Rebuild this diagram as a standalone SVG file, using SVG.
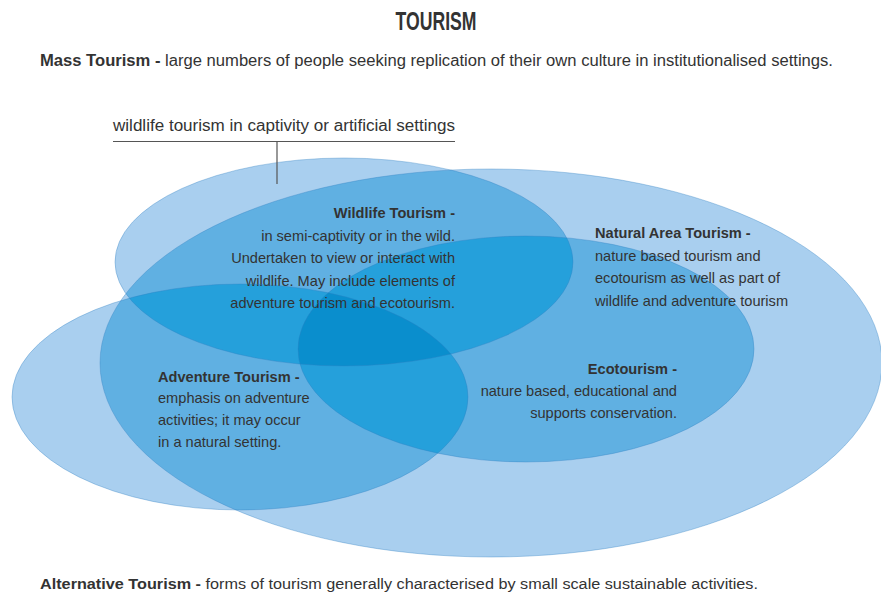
<svg xmlns="http://www.w3.org/2000/svg" xmlns:xlink="http://www.w3.org/1999/xlink" width="881" height="596" viewBox="0 0 881 596">
<style>
.t{font-family:"Liberation Sans",Arial,sans-serif;fill:#333;}
.b{font-weight:bold;}
.body{font-size:14.6px;}
.s1{fill:#a9cfef;}
.s2{fill:#60b0e2;}
.s3{fill:#25a0db;}
.s4{fill:#0a8ecd;}
.edge{fill:none;stroke:#2f7fc0;stroke-opacity:0.35;stroke-width:1;}
.conn{stroke:#555;stroke-width:1.2;fill:none;}
</style>
<defs>
<ellipse id="e-nat" cx="491" cy="363" rx="391" ry="194"/>
<ellipse id="e-wild" cx="344" cy="262" rx="229" ry="104"/>
<ellipse id="e-adv" cx="240" cy="397" rx="228" ry="113"/>
<ellipse id="e-eco" cx="526" cy="349" rx="228" ry="113"/>
<clipPath id="c-nat"><use xlink:href="#e-nat"/></clipPath>
<clipPath id="c-wild"><use xlink:href="#e-wild"/></clipPath>
<clipPath id="c-adv"><use xlink:href="#e-adv"/></clipPath>
<clipPath id="c-eco"><use xlink:href="#e-eco"/></clipPath>
</defs>

<g id="title">
<text class="t b" x="436" y="30" font-size="25" text-anchor="middle" textLength="81" lengthAdjust="spacingAndGlyphs">TOURISM</text>
</g>
<g id="mass-tourism">
<text class="t" x="40" y="66" font-size="16" textLength="793" lengthAdjust="spacingAndGlyphs"><tspan class="b">Mass Tourism -</tspan> large numbers of people seeking replication of their own culture in institutionalised settings.</text>
</g>

<g id="overlap-fills">
<use xlink:href="#e-nat" class="s1"/>
<use xlink:href="#e-wild" class="s1"/>
<use xlink:href="#e-adv" class="s1"/>
<use xlink:href="#e-eco" class="s1"/>
<g class="s2">
<g clip-path="url(#c-nat)"><use xlink:href="#e-wild"/><use xlink:href="#e-adv"/><use xlink:href="#e-eco"/></g>
<g clip-path="url(#c-wild)"><use xlink:href="#e-adv"/><use xlink:href="#e-eco"/></g>
<g clip-path="url(#c-adv)"><use xlink:href="#e-eco"/></g>
</g>
<g class="s3">
<g clip-path="url(#c-nat)"><g clip-path="url(#c-wild)"><use xlink:href="#e-adv"/><use xlink:href="#e-eco"/></g><g clip-path="url(#c-adv)"><use xlink:href="#e-eco"/></g></g>
<g clip-path="url(#c-wild)"><g clip-path="url(#c-adv)"><use xlink:href="#e-eco"/></g></g>
</g>
<g class="s4">
<g clip-path="url(#c-nat)"><g clip-path="url(#c-wild)"><g clip-path="url(#c-adv)"><use xlink:href="#e-eco"/></g></g></g>
</g>
</g>

<g id="natural-area-tourism">
<use xlink:href="#e-nat" class="edge"/>
<text class="t body" x="595"><tspan class="b" x="595" y="238">Natural Area Tourism -</tspan><tspan x="595" y="261">nature based tourism and</tspan><tspan x="595" y="283">ecotourism as well as part of</tspan><tspan x="595" y="306">wildlife and adventure tourism</tspan></text>
</g>

<g id="wildlife-tourism">
<use xlink:href="#e-wild" class="edge"/>
<text class="t body" text-anchor="end"><tspan class="b" x="455" y="218">Wildlife Tourism -</tspan><tspan x="455" y="241">in semi-captivity or in the wild.</tspan><tspan x="455" y="263">Undertaken to view or interact with</tspan><tspan x="455" y="286">wildlife. May include elements of</tspan><tspan x="455" y="308">adventure tourism and ecotourism.</tspan></text>
</g>

<g id="adventure-tourism">
<use xlink:href="#e-adv" class="edge"/>
<text class="t body"><tspan class="b" x="158" y="382">Adventure Tourism -</tspan><tspan x="158" y="403">emphasis on adventure</tspan><tspan x="158" y="425">activities; it may occur</tspan><tspan x="158" y="447">in a natural setting.</tspan></text>
</g>

<g id="ecotourism">
<use xlink:href="#e-eco" class="edge"/>
<text class="t body" text-anchor="end"><tspan class="b" x="677" y="374">Ecotourism -</tspan><tspan x="677" y="396">nature based, educational and</tspan><tspan x="677" y="418">supports conservation.</tspan></text>
</g>

<g id="captivity-label">
<text class="t" x="113" y="131" font-size="16" textLength="342" lengthAdjust="spacingAndGlyphs">wildlife tourism in captivity or artificial settings</text>
</g>

<g id="connectors">
<path class="conn" d="M113 141.5 H455 M277 141.5 V184"/>
</g>

<g id="alternative-tourism">
<text class="t" x="40" y="589" font-size="15.5" textLength="718" lengthAdjust="spacingAndGlyphs"><tspan class="b">Alternative Tourism -</tspan> forms of tourism generally characterised by small scale sustainable activities.</text>
</g>
</svg>
